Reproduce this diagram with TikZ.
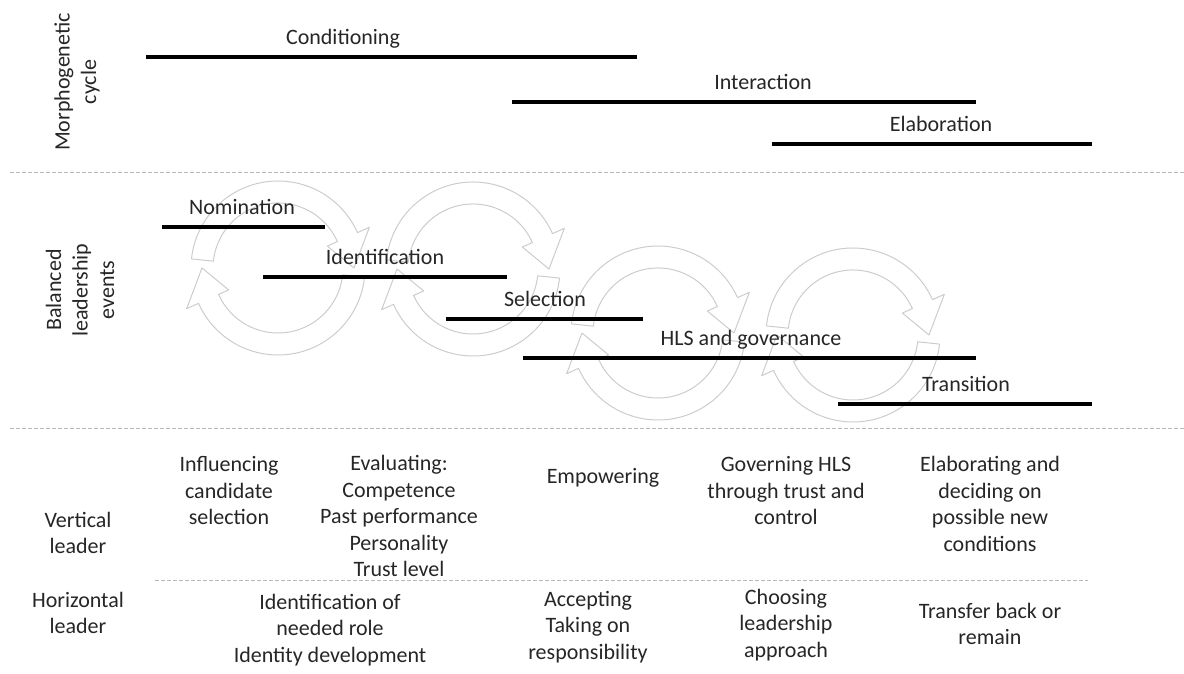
\documentclass[tikz,border=0pt]{standalone}
\usepackage{fontspec}
\setmainfont{Carlito}

\begin{document}
\begin{tikzpicture}[x=0.5pt,y=0.5pt,
    bar/.style={line width=2.3pt},
    lbl/.style={anchor=base,inner sep=0pt,text=black!85,font=\fontsize{11}{13.25}\selectfont},
    txt/.style={align=center,inner sep=0pt,text=black!85,font=\fontsize{11}{13.25}\selectfont},
    sep/.style={gray!55,dash pattern=on 2pt off 1pt,line width=0.4pt},
    cyc/.style={gray!40,line width=0.5pt,line join=round}]
  \useasboundingbox (0,0) rectangle (1184,674);

    % dashed separators
    \draw[sep] (10,502) -- (1184,502);
    \draw[sep] (10,246) -- (1184,246);
    \draw[sep] (155,94) -- (1088,94);

    % row titles
    \node[txt,rotate=90] (morph) at (77,592) {Morphogenetic\\cycle};
    \node[txt,rotate=90] (blev) at (80,384) {Balanced\\leadership\\events};
    \node[txt] (vert) at (78,141) {Vertical\\leader};
    \node[txt] (horiz) at (78,61) {Horizontal\\leader};

    % faint cycle arrows behind the events
    \foreach \cx/\cy in {278/406,473/405,658/341,853/339} {
      \foreach \rot in {0,180} {
        \begin{scope}[shift={(\cx,\cy)},rotate=\rot]
          \draw[cyc] (174:87) arc[start angle=174,end angle=24,radius=87]
             -- (24:100) -- (0:76) -- (24:54) -- (24:65)
             arc[start angle=24,end angle=174,radius=65] -- cycle;
        \end{scope}
      }
    }

    % phase bars
    \foreach \nm/\xa/\xb/\yy/\xt/\lab in {cond/146/637/617/343/Conditioning,
        inter/512/976/572/763/Interaction,
        elab/772/1092/530/941/Elaboration,
        nomi/162/325/447/242/Nomination,
        iden/263/507/397/385/Identification,
        sele/446/643/355/545/Selection,
        hls/523/976/316/751/HLS and governance,
        tran/838/1092/270/966/Transition} {
      \coordinate (\nm-a) at (\xa,\yy);
      \coordinate (\nm-b) at (\xb,\yy);
      \draw[bar] (\nm-a) -- (\nm-b);
      \node[lbl] (\nm) at (\xt,\yy+12) {\lab};
    }

    % vertical leader
    \node[txt] (infl) at (229,183) {Influencing\\candidate\\selection};
    \node[txt] (eval) at (399,158) {Evaluating:\\Competence\\Past performance\\Personality\\Trust level};
    \node[txt] (empo) at (603,196) {Empowering};
    \node[txt] (gove) at (786,183) {Governing HLS\\through trust and\\control};
    \node[txt] (elde) at (990,170) {Elaborating and\\deciding on\\possible new\\conditions};

    % horizontal leader
    \node[txt] (idro) at (330,44) {Identification of\\needed role\\Identity development};
    \node[txt] (acce) at (588,47) {Accepting\\Taking on\\responsibility};
    \node[txt] (choo) at (786,49) {Choosing\\leadership\\approach};
    \node[txt] (trba) at (990,50) {Transfer back or\\remain};
\end{tikzpicture}
\end{document}
